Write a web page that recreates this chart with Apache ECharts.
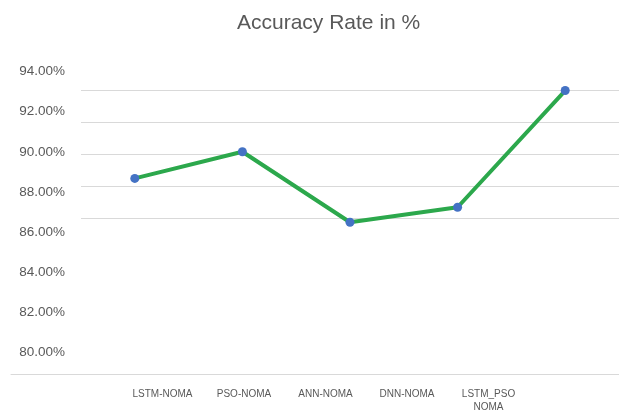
<!DOCTYPE html>
<html>
<head>
<meta charset="utf-8">
<script src="https://cdn.jsdelivr.net/npm/echarts@6/dist/echarts.min.js"></script>
<style>html,body{margin:0;padding:0;background:#fff;}#c{width:619px;height:414px;}</style>
</head>
<body>
<div id="c"></div>
<script>
var categories = ['LSTM-NOMA', 'PSO-NOMA', 'ANN-NOMA', 'DNN-NOMA', 'LSTM_PSO NOMA'];
var accuracy = [88.67, 90.0, 86.48, 87.23, 93.06];
var axisLabels = ['LSTM-NOMA', 'PSO-NOMA', 'ANN-NOMA', 'DNN-NOMA', 'LSTM_PSO\nNOMA', ''];
var gridSteps = [0, 1, 2, 3, 4];

var txt = '#595959';
var font = 'Liberation Sans';
var chart = echarts.init(document.getElementById('c'));
chart.setOption({
  animation: false,
  backgroundColor: '#ffffff',
  title: {
    text: 'Accuracy Rate in %',
    left: 232, top: 8,
    textStyle: { color: txt, fontSize: 21, fontWeight: 'normal', fontFamily: font }
  },
  grid: [
    { left: 81, width: 541.5, top: 71.7, height: 280.3 },
    { left: 81, right: 0, top: 90, height: 128.5 },
    { left: 11, right: 0, top: 300, bottom: 40 },
    { left: 121.75, width: 489, top: 300, bottom: 40 }
  ],
  xAxis: [
    { gridIndex: 0, type: 'category', data: categories, show: false, boundaryGap: true },
    { gridIndex: 1, type: 'value', show: false },
    { gridIndex: 2, type: 'value', min: 0, max: 1, axisLine: { show: true, lineStyle: { color: '#d9d9d9', width: 1 } },
      axisTick: { show: false }, axisLabel: { show: false }, splitLine: { show: false } },
    { gridIndex: 3, type: 'category', data: axisLabels, boundaryGap: true,
      axisLine: { show: false }, axisTick: { show: false }, splitLine: { show: false },
      axisLabel: { show: true, interval: 0, color: txt, fontSize: 10, fontFamily: font, margin: 20, lineHeight: 13, align: 'center' } }
  ],
  yAxis: [
    { gridIndex: 0, type: 'value', min: 80, max: 94, interval: 2,
      axisLine: { show: false }, axisTick: { show: false }, splitLine: { show: false },
      axisLabel: { color: txt, fontSize: 13.5, fontFamily: font, margin: 16,
        formatter: function (v) { return v.toFixed(2) + '%'; } } },
    { gridIndex: 1, type: 'value', min: gridSteps[0], max: gridSteps[gridSteps.length - 1], interval: 1,
      axisLine: { show: false }, axisTick: { show: false }, axisLabel: { show: false },
      splitLine: { show: true, lineStyle: { color: '#d9d9d9', width: 1 } } },
    { gridIndex: 2, type: 'value', show: false },
    { gridIndex: 3, type: 'value', show: false }
  ],
  series: [{
    type: 'line',
    xAxisIndex: 0, yAxisIndex: 0,
    data: accuracy,
    symbol: 'circle',
    symbolSize: 9,
    itemStyle: { color: '#4472C4' },
    lineStyle: { color: '#2CA84C', width: 4 },
    z: 5
  }]
});
</script>
</body>
</html>
